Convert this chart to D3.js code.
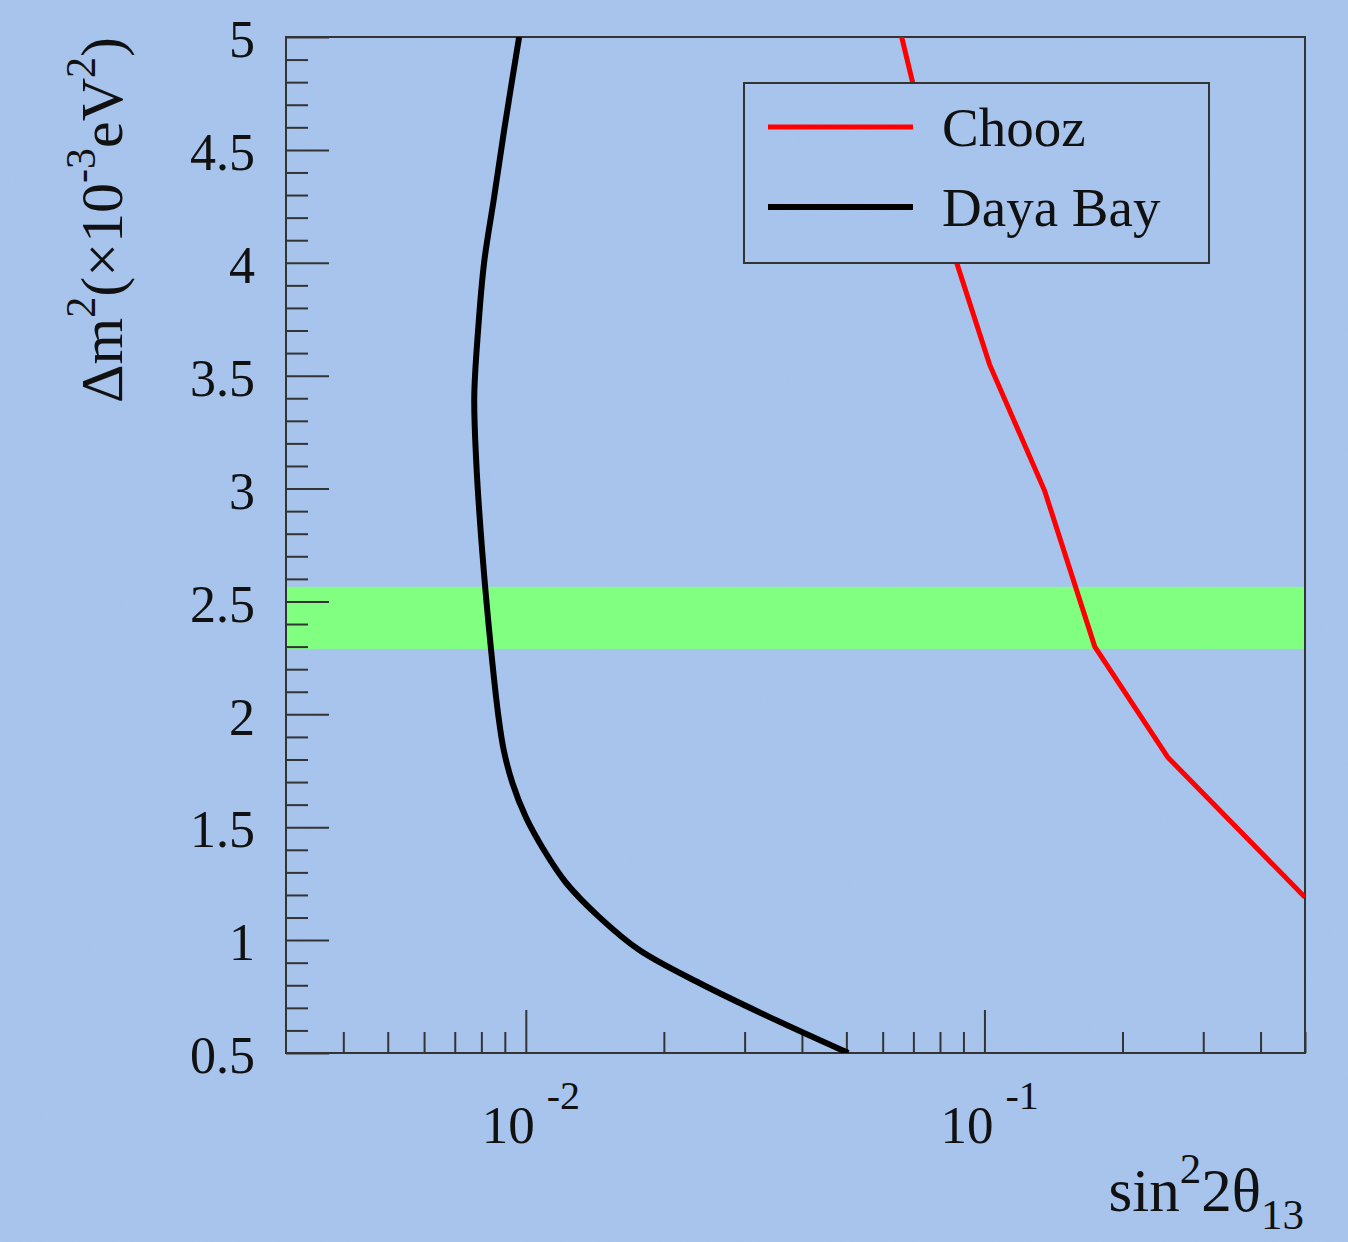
<!DOCTYPE html>
<html>
<head>
<meta charset="utf-8">
<script src="https://cdn.jsdelivr.net/npm/d3@7"></script>
<style>
  body { margin: 0; background: #a6c3ec; }
  svg { display: block; }
  text { font-family: "Liberation Serif", "DejaVu Serif", serif; fill: #111; }
</style>
</head>
<body>
<div id="chart"></div>
<script>
// sensitivity curves: sin^2(2theta13) vs dm2 (x10^-3 eV^2)
const DM2_DAYABAY = [0.5, 0.659, 0.81, 0.956, 1.102, 1.253, 1.399, 1.545, 1.696, 1.842, 1.988, 2.285, 2.728, 3.113, 3.406, 3.702, 4.0, 4.291, 4.588, 5.0];
const SIN_DAYABAY = [0.0505, 0.0340, 0.0239, 0.01768, 0.01446, 0.01225, 0.01095, 0.01000, 0.00935, 0.00895, 0.00872, 0.0084, 0.00803, 0.0078, 0.00772, 0.00787, 0.00811, 0.00853, 0.00897, 0.00967];

const DM2_CHOOZ = [1.19, 1.81, 2.30, 2.99, 3.55, 4.0, 4.80, 5.0];
const SIN_CHOOZ = [0.5, 0.251, 0.174, 0.1353, 0.1026, 0.087, 0.0697, 0.066];

// allowed dm2 band
const BAND = [2.29, 2.565];

const Y_MAJOR = [0.5, 1, 1.5, 2, 2.5, 3, 3.5, 4, 4.5, 5];
const X_MAJOR = [0.01, 0.1];
const X_LABELS = ["-2", "-1"];

const LEGEND = [
    { name: "Chooz", color: "#ff0000", width: 5 },
    { name: "Daya Bay", color: "#000000", width: 6 }
];

const W = 1348, H = 1242;
const margin = { top: 37, right: 43, bottom: 189, left: 286 };
const innerW = W - margin.left - margin.right;
const innerH = H - margin.top - margin.bottom;
const bg = "#a7c4ed";

const svg = d3.select("#chart").append("svg")
    .attr("width", W)
    .attr("height", H);

// speckled paper-like background
const defs = svg.append("defs");
const noise = defs.append("filter").attr("id", "noise")
    .attr("x", 0).attr("y", 0).attr("width", "100%").attr("height", "100%");
noise.append("feTurbulence")
    .attr("type", "fractalNoise")
    .attr("baseFrequency", 0.9)
    .attr("numOctaves", 2)
    .attr("seed", 3)
    .attr("result", "t");
noise.append("feColorMatrix")
    .attr("in", "t")
    .attr("type", "matrix")
    .attr("values", "0 0 0 0 0.45  0 0 0 0 0.55  0 0 0 0 0.8  0 0 0 0.5 -0.18");

svg.append("rect").attr("width", W).attr("height", H).attr("fill", bg);
svg.append("rect").attr("width", W).attr("height", H).attr("filter", "url(#noise)").attr("opacity", 0.5);

const g = svg.append("g")
    .attr("transform", `translate(${margin.left},${margin.top})`);

// scales
const x = d3.scaleLog().domain([0.003, 0.5]).range([0, innerW]);
const y = d3.scaleLinear().domain([0.5, 5]).range([innerH, 0]);

defs.append("clipPath").attr("id", "clip")
    .append("rect").attr("x", margin.left).attr("y", margin.top)
    .attr("width", innerW).attr("height", innerH);

// green band
g.append("rect")
    .attr("x", 0)
    .attr("y", y(BAND[1]))
    .attr("width", innerW)
    .attr("height", y(BAND[0]) - y(BAND[1]))
    .attr("fill", "#80ff80");

// minor ticks
const yMinor = d3.range(6, 50).map(d => d / 10).filter(v => Math.abs(v * 2 - Math.round(v * 2)) > 1e-6);
g.append("g")
    .call(d3.axisLeft(y).tickValues(yMinor).tickSize(-22).tickFormat(""))
    .call(ax => ax.select(".domain").remove())
    .call(ax => ax.selectAll(".tick line").attr("stroke", "#333").attr("stroke-width", 2));

const xMinor = [];
[0.001, 0.01, 0.1].forEach(dec => {
    for (let k = 2; k <= 9; k++) {
        const v = dec * k;
        if (v > 0.003 && v <= 0.5) xMinor.push(v);
    }
});
g.append("g")
    .attr("transform", `translate(0,${innerH})`)
    .call(d3.axisBottom(x).tickValues(xMinor).tickSize(-21).tickFormat(""))
    .call(ax => ax.select(".domain").remove())
    .call(ax => ax.selectAll(".tick line").attr("stroke", "#333").attr("stroke-width", 2));

// major ticks + labels
g.append("g")
    .call(d3.axisLeft(y).tickValues(Y_MAJOR).tickSize(-43).tickPadding(31).tickFormat(d3.format("~g")))
    .call(ax => ax.select(".domain").remove())
    .call(ax => ax.selectAll(".tick line").attr("stroke", "#333").attr("stroke-width", 2))
    .call(ax => ax.selectAll(".tick text")
        .attr("font-size", 52)
        .attr("font-family", "Liberation Serif")
        .attr("fill", "#111")
        .attr("dy", "0.38em"));

g.append("g")
    .attr("transform", `translate(0,${innerH})`)
    .call(d3.axisBottom(x).tickValues(X_MAJOR).tickSize(-43).tickFormat(""))
    .call(ax => ax.select(".domain").remove())
    .call(ax => ax.selectAll(".tick line").attr("stroke", "#333").attr("stroke-width", 2));

X_MAJOR.forEach((v, i) => {
    const t = g.append("text")
        .attr("x", x(v) - 44)
        .attr("y", innerH + 90)
        .attr("font-size", 53);
    t.append("tspan").text("10");
    t.append("tspan")
        .attr("dx", 12)
        .attr("dy", -34)
        .attr("font-size", 40)
        .text(X_LABELS[i]);
});

// curves
const line = d3.line()
    .x(d => margin.left + x(d[0]))
    .y(d => margin.top + y(d[1]));

const chooz = SIN_CHOOZ.map((s, i) => [s, DM2_CHOOZ[i]]);
const daya = SIN_DAYABAY.map((s, i) => [s, DM2_DAYABAY[i]]);

const curves = svg.append("g").attr("clip-path", "url(#clip)");

curves.append("path")
    .datum(chooz)
    .attr("fill", "none")
    .attr("stroke", "#ff0000")
    .attr("stroke-width", 5)
    .attr("d", line.curve(d3.curveLinear));

curves.append("path")
    .datum(daya)
    .attr("fill", "none")
    .attr("stroke", "#000")
    .attr("stroke-width", 6)
    .attr("d", line.curve(d3.curveCatmullRom));

// frame
g.append("rect")
    .attr("width", innerW)
    .attr("height", innerH)
    .attr("fill", "none")
    .attr("stroke", "#333")
    .attr("stroke-width", 2);

// legend (covers curve like in ROOT)
const lg = svg.append("g").attr("transform", "translate(744,83)");
lg.append("rect")
    .attr("width", 465)
    .attr("height", 180)
    .attr("fill", bg)
    .attr("stroke", "#333")
    .attr("stroke-width", 2);
lg.append("rect")
    .attr("x", 1).attr("y", 1)
    .attr("width", 463)
    .attr("height", 178)
    .attr("filter", "url(#noise)")
    .attr("opacity", 0.5);

LEGEND.forEach((d, i) => {
    const cy = 44 + i * 80;
    lg.append("line")
        .attr("x1", 24).attr("x2", 169)
        .attr("y1", cy).attr("y2", cy)
        .attr("stroke", d.color)
        .attr("stroke-width", d.width);
    lg.append("text")
        .attr("x", 198)
        .attr("y", cy + 19)
        .attr("font-size", 55)
        .text(d.name);
});

// axis titles
const yt = svg.append("text")
    .attr("transform", "translate(122,37) rotate(-90)")
    .attr("text-anchor", "end")
    .attr("font-size", 60);
yt.append("tspan").text("Δm");
yt.append("tspan").attr("font-size", 42).attr("dy", -27).text("2");
yt.append("tspan").attr("dy", 27).text("(×10");
yt.append("tspan").attr("font-size", 42).attr("dy", -27).text("-3");
yt.append("tspan").attr("dy", 27).text("eV");
yt.append("tspan").attr("font-size", 42).attr("dy", -27).text("2");
yt.append("tspan").attr("dy", 27).text(")");

const xt = svg.append("text")
    .attr("x", 1304)
    .attr("y", 1211)
    .attr("text-anchor", "end")
    .attr("font-size", 61);
xt.append("tspan").text("sin");
xt.append("tspan").attr("font-size", 43).attr("dy", -28).text("2");
xt.append("tspan").attr("dy", 28).text("2θ");
xt.append("tspan").attr("font-size", 43).attr("dy", 18).text("13");
</script>
</body>
</html>
